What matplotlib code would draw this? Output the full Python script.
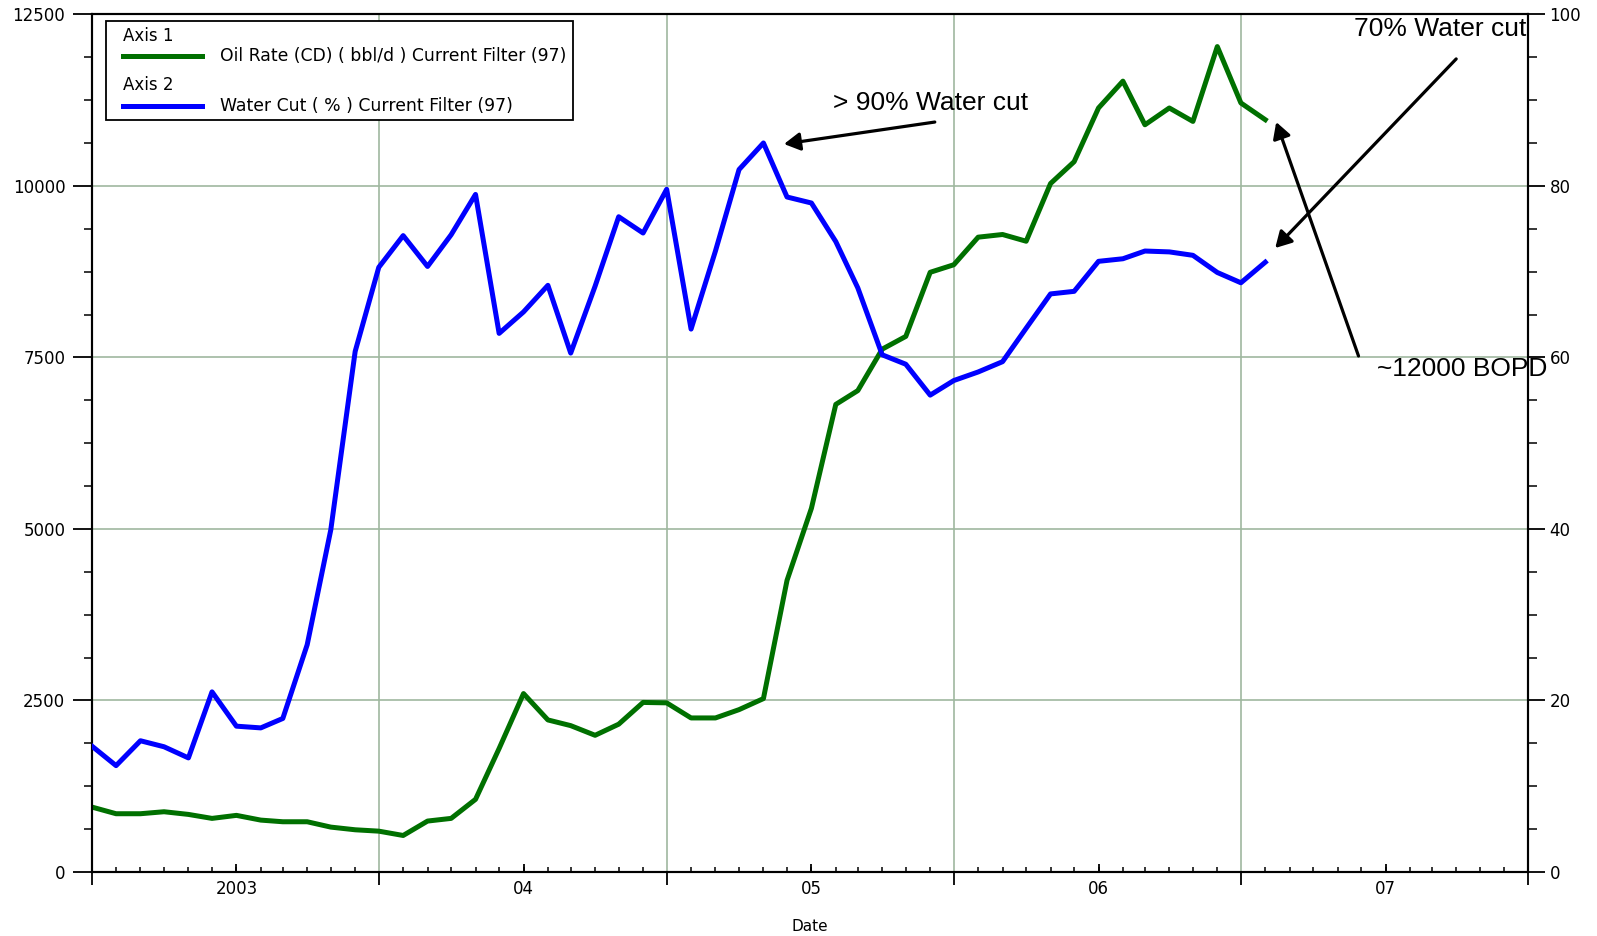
import numpy as np
import pandas as pd
import matplotlib
matplotlib.use("Agg")
import matplotlib.pyplot as plt
import matplotlib.dates as mdates
from matplotlib.ticker import MultipleLocator, NullFormatter
from matplotlib.patches import Rectangle
from matplotlib.lines import Line2D

# Monthly production data, Jul 2002 - Aug 2006
months = pd.date_range("2002-07-01", periods=50, freq="MS")

oil_rate = [
    947, 849, 849, 878, 839, 781,                                   # 2002 Jul-Dec
    825, 756, 732, 732, 654, 615, 595, 532, 742, 781, 1059, 1800,   # 2003
    2600, 2216, 2133, 1992, 2154, 2471, 2465, 2245, 2245, 2366, 2527, 4250,  # 2004
    5300, 6815, 7016, 7620, 7806, 8740, 8850, 9252, 9291, 9193, 10034, 10352,  # 2005
    11135, 11526, 10890, 11135, 10939, 12030, 11208, 10964,         # 2006 Jan-Aug
]

water_cut = [
    14.7, 12.4, 15.3, 14.6, 13.3, 21.0,
    17.0, 16.8, 17.9, 26.5, 39.9, 60.7, 70.5, 74.2, 70.6, 74.3, 79.0, 62.8,
    65.3, 68.4, 60.5, 68.3, 76.4, 74.5, 79.6, 63.3, 72.4, 81.9, 85.0, 78.7,
    78.0, 73.5, 68.1, 60.3, 59.2, 55.6, 57.3, 58.3, 59.5, 63.4, 67.4, 67.7,
    71.2, 71.5, 72.4, 72.3, 71.9, 69.9, 68.7, 71.1,
]

year_starts = ["2003-01-01", "2004-01-01", "2005-01-01", "2006-01-01", "2007-01-01"]
year_labels = ["2003", "04", "05", "06", "07"]

legend_oil = "Oil Rate (CD) ( bbl/d ) Current Filter (97)"
legend_wc = "Water Cut ( % ) Current Filter (97)"

OIL_COLOR = "#007000"
WC_COLOR = "#0000ff"
GRID_COLOR = "#9fb89f"

fig = plt.figure(figsize=(15.97, 9.36), dpi=100)
ax1 = fig.add_axes([0.0574, 0.0684, 0.8994, 0.9163])
ax2 = ax1.twinx()

ax1.plot(months, oil_rate, color=OIL_COLOR, lw=3.6, zorder=3)
ax2.plot(months, water_cut, color=WC_COLOR, lw=3.6, zorder=3)

x0 = pd.Timestamp("2002-07-01")
x1 = pd.Timestamp("2007-07-01")
ax1.set_xlim(x0, x1)
ax1.set_ylim(0, 12500)
ax2.set_ylim(0, 100)

# Left axis: oil rate
ax1.yaxis.set_major_locator(MultipleLocator(2500))
ax1.yaxis.set_minor_locator(MultipleLocator(625))
ax1.tick_params(axis="y", which="major", direction="out", length=14, width=1.3,
                pad=5, labelsize=12)
ax1.tick_params(axis="y", which="minor", direction="out", length=6, width=1.1)

# Right axis: water cut
ax2.yaxis.set_major_locator(MultipleLocator(20))
ax2.yaxis.set_minor_locator(MultipleLocator(5))
ax2.tick_params(axis="y", which="major", direction="out", length=12, width=1.3,
                pad=3.5, labelsize=12)
ax2.tick_params(axis="y", which="minor", direction="out", length=6.5, width=1.1)

# Date axis: long ticks and grid at mid-year, monthly minor ticks
ax1.xaxis.set_major_locator(mdates.MonthLocator(bymonth=7))
ax1.xaxis.set_major_formatter(NullFormatter())
ax1.xaxis.set_minor_locator(mdates.MonthLocator())
ax1.tick_params(axis="x", which="major", direction="out", length=9, width=1.3)
ax1.tick_params(axis="x", which="minor", direction="in", length=3.5, width=1.1)

ax1.grid(True, which="major", color=GRID_COLOR, lw=1.2, zorder=0)
ax1.set_axisbelow(True)

# Year labels at January
sec = ax1.secondary_xaxis("bottom")
sec.set_xticks(mdates.date2num(pd.to_datetime(year_starts)), labels=year_labels)
sec.tick_params(direction="in", length=5.5, width=1.3, pad=6, labelsize=12)
sec.spines["bottom"].set_visible(False)

for ax in (ax1, ax2):
    for sp in ax.spines.values():
        sp.set_linewidth(1.5)
        sp.set_color("black")

ax1.set_xlabel("Date", fontsize=11)
ax1.xaxis.set_label_coords(0.5, -0.055)

# Legend box
fig.patches.append(Rectangle((0.0664, 0.8718), 0.2924, 0.1053, transform=fig.transFigure,
                             facecolor="white", edgecolor="black", lw=1.3, zorder=10))
fig.text(0.0770, 0.962, "Axis 1", fontsize=12, va="center", ha="left", zorder=11)
fig.lines.append(Line2D([0.0770, 0.1265], [0.9402, 0.9402], transform=fig.transFigure,
                        color=OIL_COLOR, lw=3.6, zorder=11))
fig.text(0.1378, 0.9402, legend_oil, fontsize=12.4, va="center", ha="left", zorder=11)
fig.text(0.0770, 0.9097, "Axis 2", fontsize=12, va="center", ha="left", zorder=11)
fig.lines.append(Line2D([0.0770, 0.1265], [0.8868, 0.8868], transform=fig.transFigure,
                        color=WC_COLOR, lw=3.6, zorder=11))
fig.text(0.1378, 0.8868, legend_wc, fontsize=12.4, va="center", ha="left", zorder=11)

# Annotations
note_font = dict(family=["Liberation Sans", "DejaVu Sans"], size=19)
arrow = dict(arrowstyle="-|>,head_length=0.8,head_width=0.45", color="black",
             lw=2.3, mutation_scale=12, shrinkA=0, shrinkB=0)

ax2.text(0.516, 0.8966, "> 90% Water cut", transform=ax2.transAxes,
         va="center", ha="left", **note_font)
ax2.annotate("", xy=(0.482, 0.8488), xytext=(0.587, 0.8744),
             xycoords="axes fraction", textcoords="axes fraction",
             arrowprops=arrow, annotation_clip=False)

ax2.text(0.879, 0.983, "70% Water cut", transform=ax2.transAxes,
         va="center", ha="left", **note_font)
ax2.annotate("", xy=(0.824, 0.7275), xytext=(0.950, 0.948),
             xycoords="axes fraction", textcoords="axes fraction",
             arrowprops=arrow, annotation_clip=False)

ax2.text(0.895, 0.5864, "~12000 BOPD", transform=ax2.transAxes,
         va="center", ha="left", clip_on=False, **note_font)
ax2.annotate("", xy=(0.8247, 0.8744), xytext=(0.882, 0.6016),
             xycoords="axes fraction", textcoords="axes fraction",
             arrowprops=arrow, annotation_clip=False)

fig.savefig("out.png", dpi=100)
